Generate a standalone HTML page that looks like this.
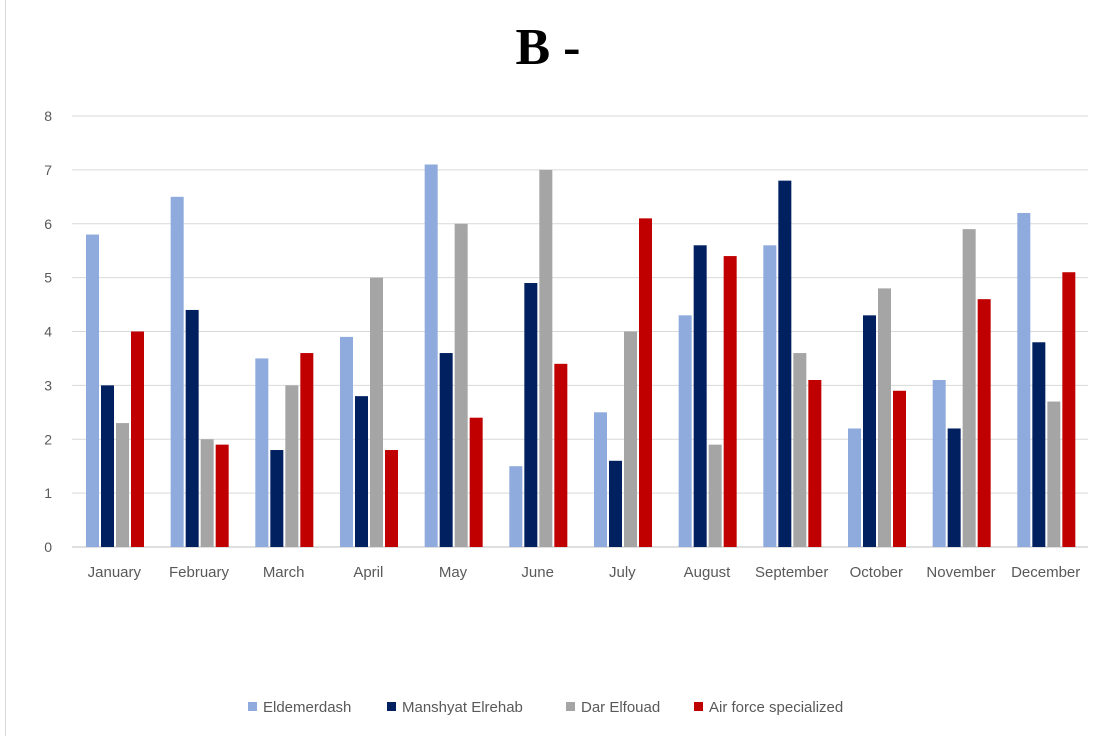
<!DOCTYPE html>
<html><head><meta charset="utf-8"><style>
body{margin:0;background:#fff}
svg{display:block}
text{font-family:"Liberation Sans",sans-serif}
</style></head><body>
<svg id="chart" width="1095" height="736">
<rect x="5.5" y="-1" width="1100" height="740" fill="#fff" stroke="#d9d9d9"/>
<text x="548" y="64" text-anchor="middle" font-family="Liberation Serif" font-weight="bold" font-size="52" style="font-family:'Liberation Serif',serif">B -</text>
<g id="grid"></g><g id="bars"></g><g id="labels"></g><g id="legend"></g>
</svg>
<script>
const categories=["January","February","March","April","May","June","July","August","September","October","November","December"];
const seriesNames=["Eldemerdash","Manshyat Elrehab","Dar Elfouad","Air force specialized"];
const eldemerdash=[5.8,6.5,3.5,3.9,7.1,1.5,2.5,4.3,5.6,2.2,3.1,6.2];
const manshyat=[3.0,4.4,1.8,2.8,3.6,4.9,1.6,5.6,6.8,4.3,2.2,3.8];
const darElfouad=[2.3,2.0,3.0,5.0,6.0,7.0,4.0,1.9,3.6,4.8,5.9,2.7];
const airForce=[4.0,1.9,3.6,1.8,2.4,3.4,6.1,5.4,3.1,2.9,4.6,5.1];
const yTicks=[0,1,2,3,4,5,6,7,8];
const series=[eldemerdash,manshyat,darElfouad,airForce];
const colors=["#8FAADC","#002060","#A5A5A5","#C00000"];
const NS="http://www.w3.org/2000/svg";
const x0=72,x1=1088,y0=547,y8=116;
const yS=v=>y0-(y0-y8)*v/8;
const bw=(x1-x0)/categories.length;
const xS=i=>x0+bw*i;
function mk(tag,attrs,parent){const e=document.createElementNS(NS,tag);for(const k in attrs)e.setAttribute(k,attrs[k]);parent.appendChild(e);return e;}
const grid=document.getElementById('grid'),bars=document.getElementById('bars'),labels=document.getElementById('labels'),legend=document.getElementById('legend');
yTicks.forEach(t=>{
 const l=mk('line',{x1:x0,x2:x1,y1:yS(t),y2:yS(t),stroke:t===0?'#bfbfbf':'#d9d9d9','stroke-width':1},grid);
 
 
 const tx=mk('text',{x:52,y:yS(t)+5,'text-anchor':'end','font-size':14,fill:'#595959'},labels);
 tx.textContent=t;
 
 
});
const barW=13,gap=2,off=14;
categories.forEach((c,i)=>{
 series.forEach((s,j)=>{
  const r=mk('rect',{x:xS(i)+off+j*(barW+gap),y:yS(s[i]),width:barW,height:y0-yS(s[i]),fill:colors[j]},bars);
  
  
 });
 const tx=mk('text',{x:xS(i)+bw/2,y:577,'text-anchor':'middle','font-size':15,fill:'#595959'},labels);
 tx.textContent=c;
 
 
});
const lx=[248,387,566,694];
seriesNames.forEach((n,j)=>{
 const r=mk('rect',{x:lx[j],y:702,width:9,height:9,fill:colors[j]},legend);
 
 
 const tx=mk('text',{x:lx[j]+15,y:712,'font-size':15,fill:'#595959'},legend);
 tx.textContent=n;
 
 
});
</script>
</body></html>
